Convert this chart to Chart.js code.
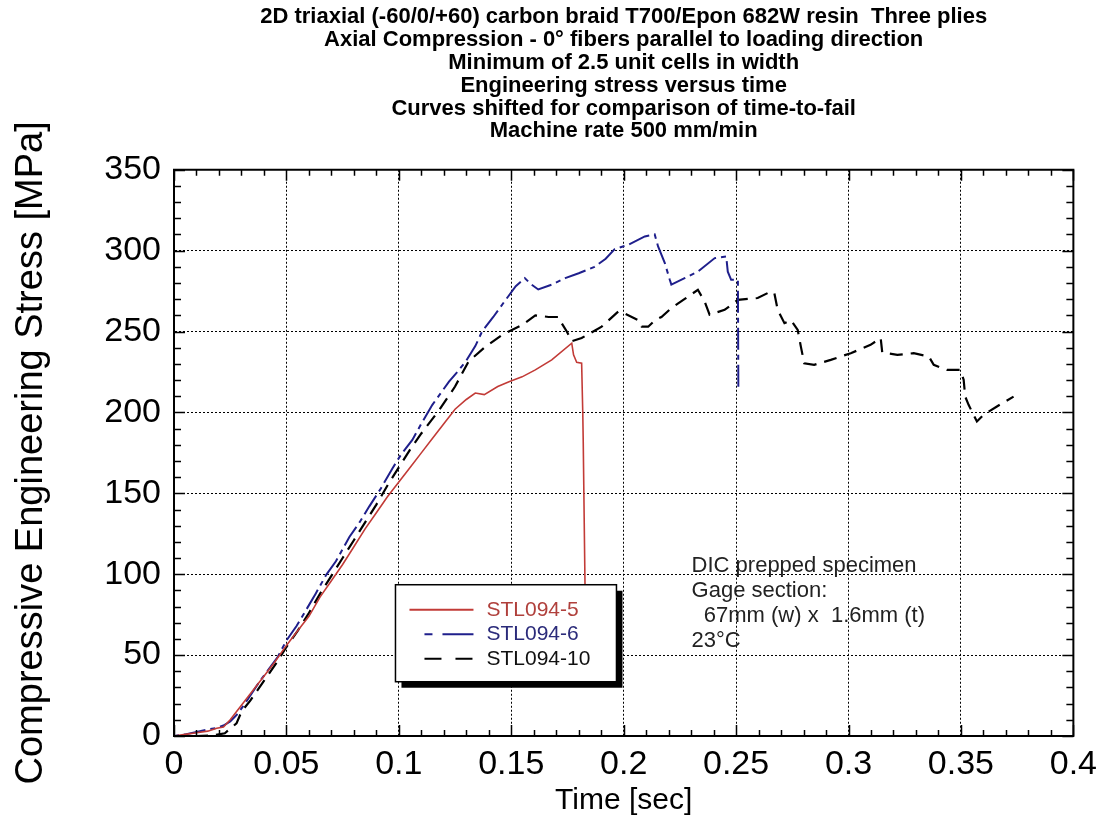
<!DOCTYPE html>
<html>
<head>
<meta charset="utf-8">
<script src="https://cdn.jsdelivr.net/npm/chart.js@4.4.1/dist/chart.umd.min.js"></script>
<style>
  html, body { margin: 0; padding: 0; background: #fff; }
  #wrap { width: 1105px; height: 832px; }
</style>
</head>
<body>
<div id="wrap"><canvas id="braidChart" width="1105" height="832"></canvas></div>
<script>
// STL094-5 (red, solid)
const time5 = [0, 0.005, 0.01, 0.015, 0.019, 0.022, 0.025, 0.03, 0.035, 0.04, 0.045, 0.05, 0.055, 0.06, 0.065, 0.07, 0.075, 0.08, 0.085, 0.09, 0.095, 0.1, 0.105, 0.11, 0.115, 0.12, 0.125, 0.13, 0.134, 0.138, 0.144, 0.149, 0.1548, 0.1607, 0.168, 0.1769, 0.1777, 0.1791, 0.1813, 0.1818, 0.182, 0.1828, 0.1832];
const stress5 = [0, 1, 2, 3, 4.8, 5.5, 10, 19, 28, 37, 46, 56, 65, 74, 86, 96, 106, 117, 128, 138, 148, 157, 166, 175, 184, 193, 202, 208, 212, 211, 216, 219, 222, 226.3, 232.5, 242.8, 235.6, 231, 230.4, 200, 183, 93, 60];

// STL094-6 (blue, dash-dot)
const time6 = [0, 0.005, 0.01, 0.015, 0.019, 0.022, 0.025, 0.0285, 0.033, 0.038, 0.042, 0.0462, 0.05, 0.0545, 0.0588, 0.063, 0.0677, 0.072, 0.078, 0.0825, 0.0868, 0.092, 0.0972, 0.101, 0.106, 0.11, 0.1149, 0.1223, 0.126, 0.13, 0.134, 0.137, 0.142, 0.147, 0.152, 0.156, 0.159, 0.162, 0.168, 0.174, 0.18, 0.187, 0.192, 0.196, 0.202, 0.2094, 0.2138, 0.2153, 0.2183, 0.2205, 0.2212, 0.2271, 0.233, 0.2405, 0.2456, 0.2463, 0.2478, 0.2508, 0.251];
const stress6 = [0, 1, 2.5, 4, 5, 6.5, 9, 14, 23, 33.6, 41, 49, 59, 68, 78, 88, 99.6, 108, 123, 132, 141.8, 153, 165.5, 174, 183, 193, 204.7, 219, 225, 232, 241, 250, 259, 268.6, 278, 283, 279, 276, 279, 283, 286, 290, 295, 301, 303.6, 308.8, 310, 302.6, 292.3, 282, 279, 283, 287, 295.4, 296.4, 287, 282, 282, 214];

// STL094-10 (black, dashed)
const time10 = [0, 0.01, 0.018, 0.0226, 0.0278, 0.03, 0.034, 0.038, 0.042, 0.046, 0.05, 0.055, 0.06, 0.065, 0.07, 0.075, 0.08, 0.085, 0.09, 0.095, 0.1, 0.105, 0.11, 0.118, 0.125, 0.131, 0.138, 0.146, 0.1548, 0.1607, 0.1666, 0.171, 0.1725, 0.1747, 0.1769, 0.1813, 0.1902, 0.1976, 0.2006, 0.2065, 0.208, 0.2109, 0.2139, 0.2168, 0.2212, 0.227, 0.233, 0.236, 0.2382, 0.2449, 0.2508, 0.2596, 0.2655, 0.267, 0.2685, 0.2715, 0.2744, 0.2774, 0.2788, 0.2803, 0.2847, 0.2921, 0.301, 0.3098, 0.3143, 0.315, 0.3217, 0.329, 0.3357, 0.3379, 0.3438, 0.3497, 0.3512, 0.3519, 0.3534, 0.3556, 0.3571, 0.36, 0.366, 0.3734];
const stress10 = [0, 0, 0.5, 1.7, 7.8, 15, 22, 30, 38, 46, 55, 65, 76, 88, 99, 110, 121, 132, 143, 155, 166, 177, 187, 201.6, 216, 231.5, 240, 248, 254, 260, 259, 259, 255, 250, 244, 246, 253, 262.4, 261, 257, 253, 253, 257, 259, 264.5, 270, 275.8, 268.6, 260.4, 263.4, 269.6, 270.7, 274.8, 273.8, 263.4, 255.2, 257, 251, 240.7, 230.4, 229.4, 232.5, 236.6, 241.8, 246, 237, 235.6, 236.6, 234.6, 229.4, 226.3, 226.3, 220.2, 209.8, 204.7, 198.5, 194.4, 198.5, 203.7, 209.8];

const seriesLabels = ["STL094-5", "STL094-6", "STL094-10"];

const titleLines = [
  "2D triaxial (-60/0/+60) carbon braid T700/Epon 682W resin  Three plies",
  "Axial Compression - 0\u00b0 fibers parallel to loading direction",
  "Minimum of 2.5 unit cells in width",
  "Engineering stress versus time",
  "Curves shifted for comparison of time-to-fail",
  "Machine rate 500 mm/min"
];
const noteLines = ["DIC prepped specimen", "Gage section:", "  67mm (w) x  1.6mm (t)", "23\u00b0C"];

const FONT = '"Liberation Sans", Arial, sans-serif';

function toPoints(xs, ys) {
  return xs.map((x, i) => ({ x: x, y: ys[i] }));
}

// inward major/minor ticks + frame
const frameTicks = {
  id: "frameTicks",
  afterDatasetsDraw(chart) {
    const { ctx, chartArea: a, scales } = chart;
    ctx.save();
    ctx.strokeStyle = "#000";
    ctx.lineWidth = 1.5;
    ctx.beginPath();
    for (let v = 0; v <= 350.001; v += 10) {
      const y = Math.round(scales.y.getPixelForValue(v)) + 0.5;
      const len = (Math.round(v) % 50 === 0) ? 11 : 7;
      ctx.moveTo(a.left, y); ctx.lineTo(a.left + len, y);
      ctx.moveTo(a.right, y); ctx.lineTo(a.right - len, y);
    }
    for (let k = 0; k <= 40; k++) {
      const x = Math.round(scales.x.getPixelForValue(k / 100)) + 0.5;
      const len = (k % 5 === 0) ? 11 : 6;
      ctx.moveTo(x, a.bottom); ctx.lineTo(x, a.bottom - len);
      ctx.moveTo(x, a.top); ctx.lineTo(x, a.top + len);
    }
    ctx.stroke();
    ctx.lineWidth = 2;
    ctx.strokeRect(a.left, a.top, a.right - a.left, a.bottom - a.top);
    ctx.restore();
  }
};

// legend box with drop shadow and the text note
const boxLegend = {
  id: "boxLegend",
  afterDraw(chart) {
    const { ctx, scales } = chart;
    const bx = scales.x.getPixelForValue(0.0985), by = scales.y.getPixelForValue(93.5);
    const bw = 221, bh = 97;
    ctx.save();
    ctx.fillStyle = "#000";
    ctx.fillRect(bx + 6, by + 6, bw, bh);
    ctx.fillStyle = "#fff";
    ctx.fillRect(bx, by, bw, bh);
    ctx.strokeStyle = "#000";
    ctx.lineWidth = 1.5;
    ctx.strokeRect(bx, by, bw, bh);
    ctx.font = "21px " + FONT;
    ctx.textBaseline = "middle";
    chart.data.datasets.forEach((ds, i) => {
      const y = by + 25 + i * 24.5;
      const x0 = ds.borderDash.length ? bx + 29 : bx + 14;
      ctx.strokeStyle = ds.borderColor;
      ctx.lineWidth = 2;
      ctx.setLineDash(ds.legendDash);
      ctx.beginPath();
      ctx.moveTo(x0, y); ctx.lineTo(bx + 78, y);
      ctx.stroke();
      ctx.setLineDash([]);
      ctx.fillStyle = ds.legendColor;
      ctx.fillText(ds.label, bx + 91, y);
    });

    ctx.fillStyle = "#222";
    ctx.font = "22px " + FONT;
    const nx = scales.x.getPixelForValue(0.2302);
    noteLines.forEach((line, i) => {
      ctx.fillText(line, nx, 566 + i * 25);
    });
    ctx.restore();
  }
};

const ctx = document.getElementById("braidChart").getContext("2d");
new Chart(ctx, {
  type: "scatter",
  data: {
    datasets: [
      {
        label: seriesLabels[0],
        data: toPoints(time5, stress5),
        borderColor: "#c23b37",
        legendColor: "#b0403c",
        borderWidth: 1.6,
        borderDash: [],
        legendDash: []
      },
      {
        label: seriesLabels[1],
        data: toPoints(time6, stress6),
        borderColor: "#1f1f8c",
        legendColor: "#2b2b7a",
        borderWidth: 2,
        borderDash: [5, 5, 22, 5],
        legendDash: [8, 10, 40, 100]
      },
      {
        label: seriesLabels[2],
        data: toPoints(time10, stress10),
        borderColor: "#000",
        legendColor: "#111",
        borderWidth: 2.2,
        borderDash: [13, 8],
        legendDash: [17, 14]
      }
    ]
  },
  options: {
    responsive: false,
    animation: false,
    devicePixelRatio: 1,
    showLine: true,
    elements: {
      point: { radius: 0, hoverRadius: 0 },
      line: { tension: 0, fill: false }
    },
    layout: { padding: { left: 0, right: 28, top: 0, bottom: 0 } },
    plugins: {
      legend: { display: false },
      tooltip: { enabled: false },
      title: {
        display: true,
        fullSize: false,
        text: titleLines,
        color: "#000",
        font: { family: FONT, size: 22, weight: "bold", lineHeight: 1.036 },
        padding: { top: 6, bottom: 27 }
      }
    },
    scales: {
      x: {
        type: "linear",
        min: 0,
        max: 0.4,
        afterFit: (s) => { s.height = 96; },
        ticks: {
          stepSize: 0.05,
          color: "#000",
          padding: 8,
          font: { family: FONT, size: 34 },
          maxRotation: 0,
          callback: (v) => String(+v.toFixed(2))
        },
        grid: { color: "#000", lineWidth: 1, drawTicks: false },
        border: { display: true, color: "#000", width: 2, dash: [2, 2] },
        title: {
          display: true,
          text: "Time [sec]",
          color: "#000",
          font: { family: FONT, size: 30 },
          padding: { top: 0, bottom: 13 }
        }
      },
      y: {
        type: "linear",
        min: 0,
        max: 350,
        afterFit: (s) => { s.width = 174; },
        ticks: {
          stepSize: 50,
          color: "#000",
          padding: 13,
          font: { family: FONT, size: 34 }
        },
        grid: { color: "#000", lineWidth: 1, drawTicks: false },
        border: { display: true, color: "#000", width: 2, dash: [2, 2] },
        title: {
          display: true,
          text: "Compressive Engineering Stress [MPa]",
          color: "#000",
          font: { family: FONT, size: 38 },
          padding: { top: 9, bottom: 0 }
        }
      }
    }
  },
  plugins: [frameTicks, boxLegend]
});
</script>
</body>
</html>
